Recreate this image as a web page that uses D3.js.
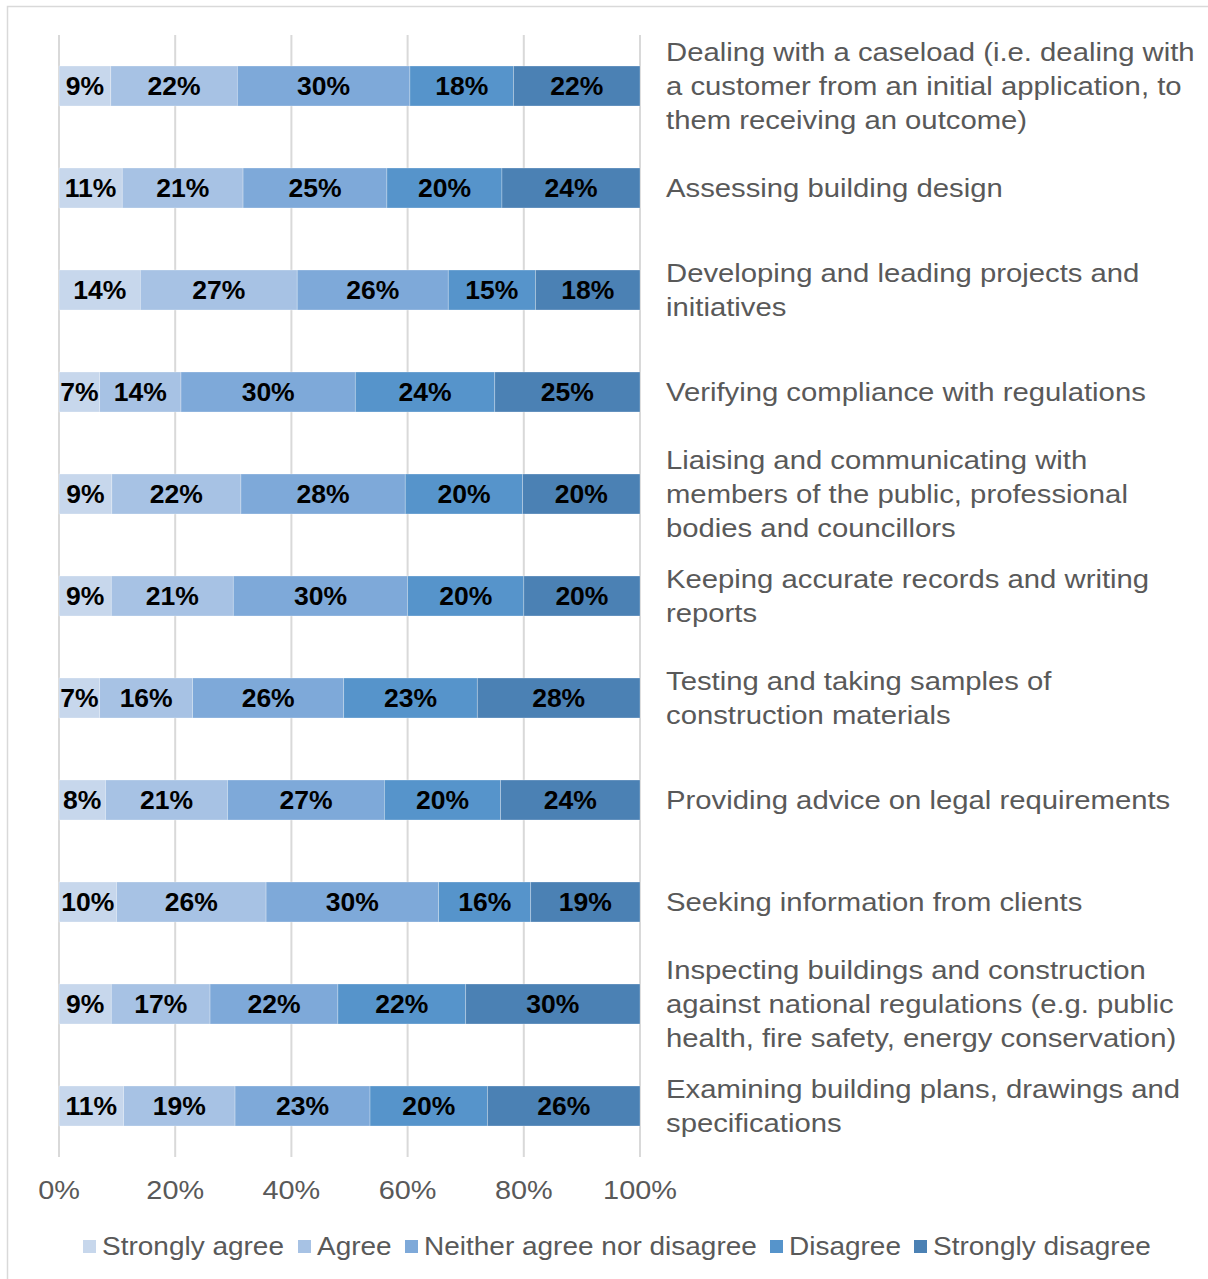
<!DOCTYPE html>
<html>
<head>
<meta charset="utf-8">
<script src="https://cdn.jsdelivr.net/npm/d3@7"></script>
<style>
  html, body { margin: 0; padding: 0; background: #fff; }
  svg { display: block; font-family: "Liberation Sans", Arial, sans-serif; }
</style>
</head>
<body>
<svg id="chart" width="1208" height="1279"></svg>
<script>
// Survey statements (top to bottom), each split into display lines
const categories = [
  ["Dealing with a caseload (i.e. dealing with", "a customer from an initial application, to", "them receiving an outcome)"],
  ["Assessing building design"],
  ["Developing and leading projects and", "initiatives"],
  ["Verifying compliance with regulations"],
  ["Liaising and communicating with", "members of the public, professional", "bodies and councillors"],
  ["Keeping accurate records and writing", "reports"],
  ["Testing and taking samples of", "construction materials"],
  ["Providing advice on legal requirements"],
  ["Seeking information from clients"],
  ["Inspecting buildings and construction", "against national regulations (e.g. public", "health, fire safety, energy conservation)"],
  ["Examining building plans, drawings and", "specifications"]
];

const seriesNames = ["Strongly agree", "Agree", "Neither agree nor disagree", "Disagree", "Strongly disagree"];

// Percentages per response, in the same order as categories
const stronglyAgree = [9, 11, 14, 7, 9, 9, 7, 8, 10, 9, 11];
const agree         = [22, 21, 27, 14, 22, 21, 16, 21, 26, 17, 19];
const neither       = [30, 25, 26, 30, 28, 30, 26, 27, 30, 22, 23];
const disagree      = [18, 20, 15, 24, 20, 20, 23, 20, 16, 22, 20];
const stronglyDis   = [22, 24, 18, 25, 20, 20, 28, 24, 19, 30, 26];

const xTicks = [0, 0.2, 0.4, 0.6, 0.8, 1];
const xTickLabels = ["0%", "20%", "40%", "60%", "80%", "100%"];

const colors = ["#c7d7ec", "#a7c2e4", "#7ea9d9", "#5694cb", "#4b81b4"];

const rows = categories.map((c, i) => ({
  idx: i,
  s0: stronglyAgree[i], s1: agree[i], s2: neither[i], s3: disagree[i], s4: stronglyDis[i]
}));
const keys = ["s0", "s1", "s2", "s3", "s4"];

const svg = d3.select("#chart");

// outer frame
svg.append("rect")
  .attr("x", 7.5).attr("y", 6.5)
  .attr("width", 1208).attr("height", 1290)
  .attr("fill", "none").attr("stroke", "#d9d9d9").attr("stroke-width", 1.5);

const plot = { left: 59, right: 640, top: 35, bottom: 1157 };

const x = d3.scaleLinear().domain([0, 1]).range([plot.left, plot.right]);
const y = d3.scaleBand()
  .domain(d3.range(categories.length))
  .range([plot.top, plot.bottom])
  .paddingInner(0.608).paddingOuter(0.304);

// gridlines
svg.append("g").selectAll("line")
  .data(xTicks)
  .join("line")
  .attr("x1", d => x(d)).attr("x2", d => x(d))
  .attr("y1", plot.top).attr("y2", plot.bottom)
  .attr("stroke", "#d9d9d9").attr("stroke-width", 2);

// stacked bars, normalised to 100%
const stack = d3.stack().keys(keys).offset(d3.stackOffsetExpand);
const layers = stack(rows);

const g = svg.append("g");
layers.forEach((layer, li) => {
  const lg = g.append("g");
  lg.selectAll("rect")
    .data(layer)
    .join("rect")
    .attr("x", d => x(d[0]))
    .attr("y", d => y(d.data.idx))
    .attr("width", d => x(d[1]) - x(d[0]))
    .attr("height", y.bandwidth())
    .attr("fill", colors[li])
    .attr("stroke", "rgba(255,255,255,0.35)")
    .attr("stroke-width", 0.75);
  lg.selectAll("text")
    .data(layer)
    .join("text")
    .attr("transform", d => `translate(${(x(d[0]) + x(d[1])) / 2},${y(d.data.idx) + y.bandwidth() / 2}) scale(1.02,1)`)
    .attr("dy", "0.36em")
    .attr("text-anchor", "middle")
    .attr("font-size", 26)
    .attr("font-weight", "bold")
    .attr("fill", "#000")
    .text(d => d.data[keys[li]] + "%");
});

// x axis labels
svg.append("g").selectAll("text")
  .data(xTicks)
  .join("text")
  .attr("transform", d => `translate(${x(d)},1190) scale(1.11,1)`)
  .attr("dy", "0.36em")
  .attr("text-anchor", "middle")
  .attr("font-size", 26)
  .attr("fill", "#595959")
  .text((d, i) => xTickLabels[i]);

// category labels on the right
const lineH = 34;
const cat = svg.append("g").selectAll("text")
  .data(categories)
  .join("text")
  .attr("font-size", 26)
  .attr("fill", "#595959");
cat.each(function(lines, i) {
  const cy = y(i) + y.bandwidth() / 2;
  const startY = cy - (lines.length - 1) * lineH / 2;
  d3.select(this)
    .attr("transform", `translate(666,${startY}) scale(1.126,1)`)
    .selectAll("tspan")
    .data(lines)
    .join("tspan")
    .attr("x", 0)
    .attr("y", (d, j) => j * lineH)
    .attr("dy", "0.36em")
    .text(d => d);
});

// legend
const legendX = [83, 298, 405, 770, 914];
const leg = svg.append("g").selectAll("g")
  .data(seriesNames)
  .join("g")
  .attr("transform", (d, i) => `translate(${legendX[i]},1246)`);
leg.append("rect")
  .attr("x", 0).attr("y", -6).attr("width", 13).attr("height", 13)
  .attr("fill", (d, i) => colors[i]);
leg.append("text")
  .attr("transform", "translate(19,0) scale(1.077,1)")
  .attr("dy", "0.36em")
  .attr("font-size", 26)
  .attr("fill", "#595959")
  .text(d => d);
</script>
</body>
</html>
